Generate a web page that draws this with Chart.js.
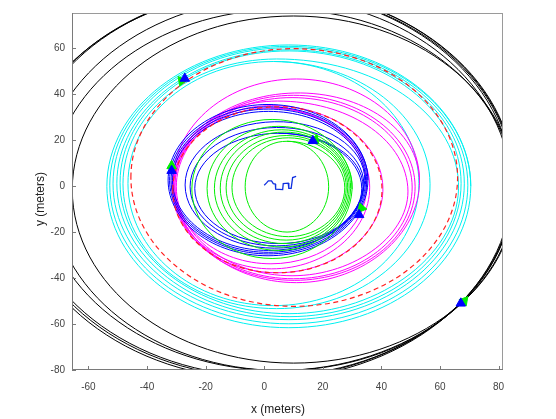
<!DOCTYPE html>
<html>
<head>
<meta charset="utf-8">
<script src="https://cdn.jsdelivr.net/npm/chart.js@4.4.1/dist/chart.umd.min.js"></script>
<style>
  html, body { margin: 0; padding: 0; background: #fff; }
  #chart { display: block; }
</style>
</head>
<body>
<canvas id="chart" width="556" height="419"></canvas>
<script>
// ---------------- DATA ----------------
const xTicks = [-60, -40, -20, 0, 20, 40, 60, 80];
const yTicks = [-80, -60, -40, -20, 0, 20, 40, 60];
const xLimits = [-65.6, 81.5];
const yLimits = [-80, 75.3];

// trajectory points: bottom / right / top / left of every loop, in travel order
const blackX = [10, 85.5, 10, -65.5, 10, 85.5, 5.9, -72.6, 5.9, 84.4, 4.8, -76.2, 4.8, 85.7, 1.1, -83.2, 1.1, 85.4, 0.5, -84, 0.5, 85, -0.1, -84.7, -0.1, 84.5, -0.1, -84.7];
const blackY = [-77, -1.5, 74, -1.5, -77, -1.5, 76.8, -1.7, -80.2, -1.7, 81.6, 0.7, -80.2, 0.7, 85.8, 1.5, -82.8, 1.5, 85.7, 1.2, -83.3, 1.2, 85.1, 0.5, -84.1, 0.5, 85.1, 0.5];

const cyanX = [8.4, 70.5, 8.4, -53.7, 8.4, 70.5, 8.4, -52.7, 8.4, 69.5, 8.4, -51.6, 8.4, 68.3, 8.5, -50.3, 8.5, 67.2, 8.5, -49.2, 8.5, 66.3, 4.2, -48.2, 4.2, 56.6, 3.2, -46.5, 3.2, 52.8, 3.2, -46.5];
const cyanY = [-61.6, -0.1, 61.4, -0.1, -61.6, -0.1, 60.8, 0.4, -59.9, 0.4, 60.2, 1, -58.1, 1, 59.3, 1.2, -56.8, 1.2, 58.8, 1.6, -55.5, 1.6, 55.3, 1, -53.3, 1, 54.2, 1.1, -52, 1.1, 54.2, 1.1];

const magentaX = [11, 53, 11, -31, 11, 53, 10.3, -31, 10.3, 51.5, 10, -30.5, 10, 50.5, 9.5, -30, 9.5, 49, 4.5, -31.5, 4.5, 40.5, 2.5, -31, 2.5, 36, 2.3, -30.5, 2.3, 35, 2.3, -30.5];
const magentaY = [-42, 2.3, 46.6, 2.3, -42, 2.3, 40.5, -0.3, -41, -0.3, 39.5, -0.4, -40.3, -0.4, 38.5, -0.3, -39, -0.3, 37, -0.4, -37.7, -0.4, 35, -0.5, -36, -0.5, 34, 0.1, -33.8, 0.1, 34, 0.1];

const blueX = [1.3, 35.4, 1.3, -32.8, 1.3, 35.4, 1.4, -32.3, 1.4, 35, 1.4, -31.8, 1.4, 34.6, 1.5, -31.3, 1.5, 34.3, 3.5, -27, 3.5, 34, 4.2, -25.3, 4.2, 33.7, 4.8, -23.7, 4.8, 33.3, 4.8, -23.7];
const blueY = [-30.3, 2.6, 35.5, 2.6, -30.3, 2.6, 34.5, 2.5, -29.5, 2.5, 33.5, 2.4, -28.8, 2.4, 32.5, 2.3, -28, 2.3, 28, 0.5, -27, 0.5, 25.5, -0.3, -26, -0.3, 23, -1, -25, -1, 23, -1];

const greenX = [2.7, 30, 2.7, -24.7, 2.7, 30, 5, -19.5, 5, 29.5, 6, -17, 6, 29, 6.8, -15, 6.8, 28.5, 7.5, -13, 7.5, 28, 8.3, -11, 8.3, 27.5, 7.8, -6.5, 7.8, 22, 7.8, -6.5];
const greenY = [-31.5, -1.3, 29, -1.3, -31.5, -1.3, 26, -1, -28, -1, 24.5, -1, -26.5, -1, 23.5, -0.8, -25, -0.8, 22, -0.8, -23.5, -0.8, 21, -0.5, -22, -0.5, 19.5, -0.3, -20, -0.3, 19.5, -0.3];

// target circles (dashed)
const redInnerX = [4.5, -31.2, 4.5, 40.2, 4.5, -31.2, 4.5];
const redInnerY = [-37.7, -1.6, 34.5, -1.6, -37.7, -1.6, 34.5];
const redOuterX = [10.25, -45.5, 10.25, 66, 10.25, -45.5, 10.25];
const redOuterY = [-52.3, 3.75, 59.8, 3.75, -52.3, 3.75, 59.8];

// small walk near the origin
const walkX = [0.0, 0.8, 1.4, 2.5, 3.1, 3.8, 3.9, 6.3, 6.5, 8.2, 8.4, 9.2, 9.7, 10.9];
const walkY = [0.4, 1.4, 2.3, 2.3, 1.1, 0.9, -1.3, -1.5, 1.1, 1.3, -1.0, -1.0, 3.7, 4.2];

// start (green) and end (blue) markers
const startX = [-28.2, -31.6, 17.4, 33.2, 68.3];
const startY = [45.8, 8.8, 20.2, -9.6, -49.9];
const startRot = [-40, 0, 20, -20, 40];
const endX = [-27.1, -31.6, 16.6, 32.4, 67.1];
const endY = [46.8, 6.7, 19.7, -12.5, -51.0];

// ---------------- HELPERS ----------------
function pts(xs, ys) {
  return xs.map((v, i) => ({ x: v, y: ys[i] }));
}

// smooth loop through the extremes; first and last pieces only steer the curve
function loopSet(xs, ys, color, order, extra) {
  const n = xs.length;
  return Object.assign({
    data: pts(xs, ys),
    borderColor: color,
    borderWidth: 1,
    pointRadius: 0,
    tension: 0.55,
    capBezierPoints: false,
    order: order,
    segment: {
      borderColor: c => (c.p0DataIndex === 0 || c.p1DataIndex === n - 1) ? 'rgba(0,0,0,0)' : undefined
    }
  }, extra || {});
}

// ---------------- FRAME / TICKS / TITLES ----------------
const framePlugin = {
  id: 'frame',
  afterDatasetsDraw(chart) {
    const { ctx, chartArea: a, scales: { x, y } } = chart;
    ctx.save();
    ctx.lineWidth = 1;
    ctx.strokeStyle = '#9a9a9a';
    ctx.strokeRect(a.left + 0.5, a.top + 0.5, a.right - a.left - 1, a.bottom - a.top - 1);
    ctx.strokeStyle = '#7a7a7a';
    ctx.beginPath();
    ctx.moveTo(a.left + 0.5, a.top);
    ctx.lineTo(a.left + 0.5, a.bottom - 0.5);
    ctx.lineTo(a.right, a.bottom - 0.5);
    xTicks.forEach(v => {
      const px = Math.round(x.getPixelForValue(v)) + 0.5;
      ctx.moveTo(px, a.bottom);
      ctx.lineTo(px, a.bottom - 4);
    });
    yTicks.forEach(v => {
      const py = Math.round(y.getPixelForValue(v)) + 0.5;
      ctx.moveTo(a.left, py);
      ctx.lineTo(a.left + 4, py);
    });
    ctx.stroke();

    ctx.fillStyle = '#222';
    ctx.font = '12px "Liberation Sans", Arial, sans-serif';
    ctx.textAlign = 'center';
    ctx.textBaseline = 'middle';
    ctx.fillText('x (meters)', 278, 410);
    ctx.translate(41, 199);
    ctx.rotate(-Math.PI / 2);
    ctx.fillText('y (meters)', 0, 0);
    ctx.restore();
  }
};

// ---------------- CHART ----------------
const tickFont = { family: '"Liberation Sans", Arial, sans-serif', size: 10 };

new Chart(document.getElementById('chart').getContext('2d'), {
  type: 'line',
  data: {
    datasets: [
      { data: pts(endX, endY), showLine: false, pointStyle: 'triangle', pointRadius: 5.5,
        pointBackgroundColor: '#0000ff', pointBorderColor: '#0000ff', pointBorderWidth: 1, order: 0 },
      { data: pts(startX, startY), showLine: false, pointStyle: 'triangle', pointRadius: 5.5,
        rotation: startRot, pointBackgroundColor: '#00ee00', pointBorderColor: '#00ee00',
        pointBorderWidth: 1, order: 1 },
      loopSet(redInnerX, redInnerY, '#ff2020', 2, { borderDash: [5, 3.5], borderWidth: 1.2 }),
      loopSet(redOuterX, redOuterY, '#ff2020', 2, { borderDash: [5, 3.5], borderWidth: 1.2 }),
      { data: pts(walkX, walkY), borderColor: '#1030e0', borderWidth: 1.3, pointRadius: 0, tension: 0, order: 3 },
      loopSet(greenX, greenY, '#00ee00', 4),
      loopSet(blueX, blueY, '#0000ff', 5),
      loopSet(magentaX, magentaY, '#ff00ff', 6),
      loopSet(cyanX, cyanY, '#00f0f0', 7),
      loopSet(blackX, blackY, '#000000', 8)
    ]
  },
  options: {
    responsive: false,
    animation: false,
    devicePixelRatio: 1,
    events: [],
    layout: { padding: { left: 0, top: 12, right: 53, bottom: 0 } },
    elements: { line: { capBezierPoints: false } },
    plugins: { legend: { display: false }, tooltip: { enabled: false } },
    scales: {
      x: {
        type: 'linear',
        min: xLimits[0], max: xLimits[1],
        afterBuildTicks: s => { s.ticks = xTicks.map(v => ({ value: v })); },
        afterFit: s => { s.height = 49; },
        grid: { display: false, drawTicks: false },
        border: { display: false },
        ticks: { color: '#444', font: tickFont, padding: 11, maxRotation: 0 }
      },
      y: {
        type: 'linear',
        min: yLimits[0], max: yLimits[1],
        afterBuildTicks: s => { s.ticks = yTicks.map(v => ({ value: v })); },
        afterFit: s => { s.width = 72; },
        grid: { display: false, drawTicks: false },
        border: { display: false },
        ticks: { color: '#444', font: tickFont, padding: 7 }
      }
    }
  },
  plugins: [framePlugin]
});
</script>
</body>
</html>
